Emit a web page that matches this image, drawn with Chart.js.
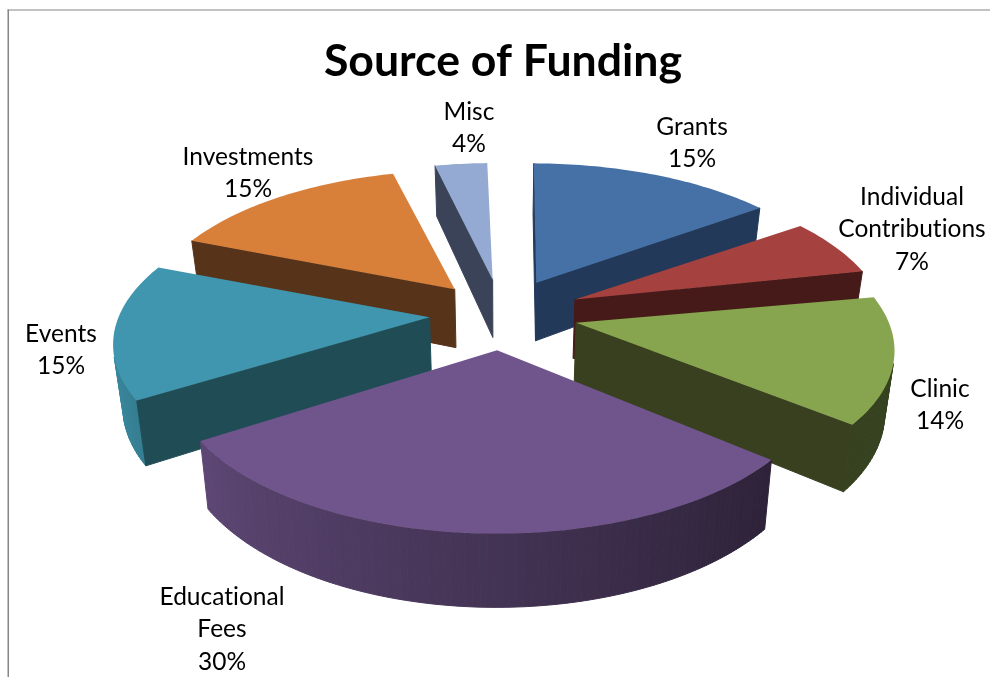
<!DOCTYPE html>
<html><head><meta charset="utf-8">
<script src="https://cdn.jsdelivr.net/npm/chart.js@4"></script>
<style>html,body{margin:0;padding:0;background:#fff}canvas{display:block}</style>
</head><body><canvas id="c" width="990" height="677"></canvas>
<script>
const categories = ["Grants","Individual Contributions","Clinic","Educational Fees","Events","Investments","Misc"];
const shares = [15,7,14,30,15,15,4];
const labelLines = [["Grants","15%"],["Individual","Contributions","7%"],["Clinic","14%"],["Educational","Fees","30%"],["Events","15%"],["Investments","15%"],["Misc","4%"]];
const topColors = ["#4571A7","#A5413E","#87A44E","#70558C","#3F96AE","#D87F3A","#95AAD3"];
const wallColors = ["#23395A","#461A18","#384020","#3A2C4C","#1F4C55","#573319","#3B4358"];
const explode = [192,198,186,186,178,180,190];
const radiusScale = [1.02,1,1,1,1,1,1];
const labelCentres = [[692,127],[912,197],[940,389],[222,597],[61,334],[248,157],[469,112]];
const view = {cx:502, cy:314, sx:310, sy:143.6, k:0.15, depth:60, taper:0.025};

function rgb(h){return [1,3,5].map(i=>parseInt(h.substr(i,2),16));}
function shade(h,f){const c=rgb(h);return `rgb(${c.map(v=>Math.round(v*f)).join(',')})`;}
function outline(arc,scale){
  const pts=[];let tx=0,ty=0;const st=[];
  const R=arc.outerRadius*scale;
  const add=(x,y,a)=>{if(isFinite(x)&&isFinite(y))pts.push({x:x+tx,y:y+ty,a});};
  const hub=(x,y)=>{if(Math.hypot(x-arc.x,y-arc.y)<1)add(x,y,null);};
  const p={save(){st.push([tx,ty]);},restore(){[tx,ty]=st.pop();},translate(a,b){tx+=a;ty+=b;},
    beginPath(){pts.length=0;},moveTo:hub,lineTo:hub,closePath(){},
    fill(){},stroke(){},clip(){},setLineDash(){},
    arc(x,y,r,a0,a1){if(!(r>1)){add(x,y,null);return;}
      const n=Math.ceil(Math.abs(a1-a0)/0.02);
      for(let i=0;i<=n;i++){const a=a0+(a1-a0)*i/n;add(x+R*Math.cos(a),y+R*Math.sin(a),a);}}};
  arc.draw(p);
  return pts.map(q=>({u:(q.x-arc.x)/arc.outerRadius,v:(q.y-arc.y)/arc.outerRadius,a:q.a}));
}
function project(q){
  const w=1/(1-view.k*q.v);
  const x=view.cx+view.sx*q.u*w,y=view.cy+view.sy*q.v*w;
  return {x,y,bx:view.cx+(x-view.cx)*(1-view.taper),by:y+view.depth*w,a:q.a};
}
function outerShade(a){
  const d=((a+Math.PI/2)*180/Math.PI+720)%360;
  return Math.max(0.4,Math.min(0.92,0.4+(d-130)/130*0.52));
}
function area(pts){let s=0;pts.forEach((p,i)=>{const q=pts[(i+1)%pts.length];s+=p[0]*q[1]-q[0]*p[1];});return s;}
const pie3d={id:'pie3d',
  beforeDatasetsDraw(chart){
    const ctx=chart.ctx,arcs=chart.getDatasetMeta(0).data;
    const mid=i=>Math.sin((arcs[i].startAngle+arcs[i].endAngle)/2);
    const order=arcs.map((a,i)=>i).sort((a,b)=>mid(a)-mid(b));
    ctx.save();ctx.lineJoin='round';
    for(const i of order){
      const P=outline(arcs[i],radiusScale[i]).map(project);
      const s=Math.sign(area(P.map(q=>[q.x,q.y])));
      for(let j=0;j<P.length;j++){
        const a=P[j],b=P[(j+1)%P.length];
        if(Math.hypot(a.x-b.x,a.y-b.y)<0.01)continue;
        if(area([[a.x,a.y],[b.x,b.y],[b.bx,b.by],[a.bx,a.by]])*s>0)continue;
        const curved=a.a!==null&&b.a!==null;
        const col=curved?shade(topColors[i],outerShade((a.a+b.a)/2)):wallColors[i];
        ctx.beginPath();ctx.moveTo(a.x,a.y);ctx.lineTo(b.x,b.y);ctx.lineTo(b.bx,b.by);ctx.lineTo(a.bx,a.by);ctx.closePath();
        ctx.fillStyle=col;ctx.strokeStyle=col;ctx.lineWidth=1;ctx.fill();ctx.stroke();
      }
      ctx.beginPath();P.forEach((q,j)=>j?ctx.lineTo(q.x,q.y):ctx.moveTo(q.x,q.y));ctx.closePath();
      ctx.fillStyle=arcs[i].options.backgroundColor;ctx.fill();
    }
    ctx.restore();
    return false;
  },
  afterDraw(chart){
    const ctx=chart.ctx;ctx.save();
    ctx.fillStyle='#868686';ctx.fillRect(7.5,9.5,1.5,668);ctx.fillRect(7.5,9.5,983,1);
    ctx.fillStyle='#000';ctx.font='24.5px Lato';ctx.letterSpacing='0.01px';ctx.textAlign='center';ctx.textBaseline='middle';
    labelLines.forEach((ls,i)=>ls.forEach((t,j)=>ctx.fillText(t,labelCentres[i][0],labelCentres[i][1]+j*32.5)));
    ctx.restore();
  }};
new Chart(document.getElementById('c'),{
  type:'pie',
  data:{labels:categories,datasets:[{data:shares,backgroundColor:topColors,offset:explode,borderWidth:0}]},
  plugins:[pie3d],
  options:{responsive:false,animation:false,
    layout:{padding:{left:16}},
    plugins:{legend:{display:false},tooltip:{enabled:false},
      title:{display:true,text:'Source of Funding',color:'#000',font:{family:'Lato',size:44.6,weight:'bold'},padding:{top:35,bottom:10}}}}
});
</script></body></html>
